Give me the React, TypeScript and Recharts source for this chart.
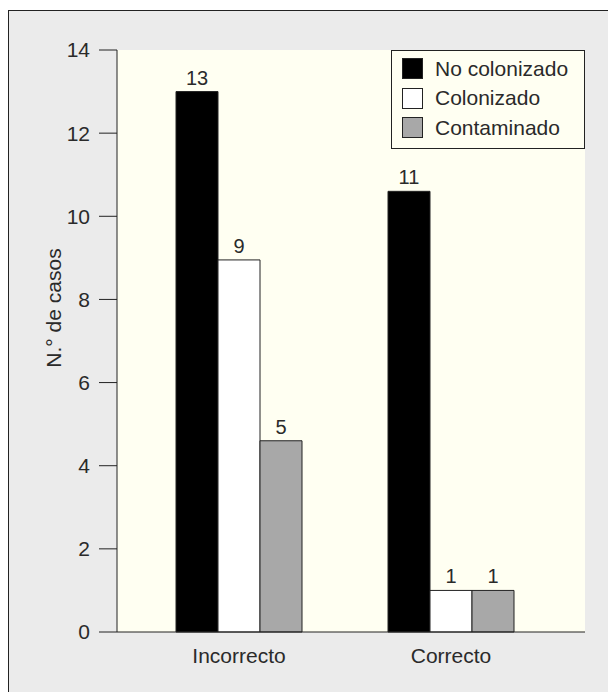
import {
  BarChart,
  Bar,
  XAxis,
  YAxis,
  CartesianGrid,
  Legend,
  LabelList,
} from 'recharts';

const categories = ['Incorrecto', 'Correcto'];
// bar heights as drawn, labels as printed
const noColonizado = [13, 10.6];
const colonizado = [8.95, 1];
const contaminado = [4.6, 1];
const noColonizadoLbl = [13, 11];
const colonizadoLbl = [9, 1];
const contaminadoLbl = [5, 1];
const yTicks = [0, 2, 4, 6, 8, 10, 12, 14];

const series = [
  {key: 'noCol', name: 'No colonizado', fill: '#000000'},
  {key: 'col', name: 'Colonizado', fill: '#ffffff'},
  {key: 'cont', name: 'Contaminado', fill: '#a8a8a8'},
];

const data = categories.map((name, i) => ({
  name,
  noCol: noColonizado[i],
  col: colonizado[i],
  cont: contaminado[i],
  noColLbl: noColonizadoLbl[i],
  colLbl: colonizadoLbl[i],
  contLbl: contaminadoLbl[i],
}));

const FONT = '"Liberation Sans", Arial, Helvetica, sans-serif';
const INK = '#222';
const TXT = '#2a2a2a';

const LegendBox = () => (
  <div
    style={{
      width: 194,
      height: 99,
      boxSizing: 'border-box',
      border: `1px solid ${INK}`,
      background: '#fffff2',
      paddingTop: 3,
      paddingLeft: 10,
      fontFamily: FONT,
      fontSize: 21,
      color: TXT,
    }}
  >
    {series.map((s) => (
      <div key={s.key} style={{display: 'flex', alignItems: 'center', height: 29.5}}>
        <span
          style={{
            width: 21,
            height: 21,
            boxSizing: 'border-box',
            background: s.fill,
            border: `1px solid ${INK}`,
            marginRight: 12,
          }}
        />
        <span>{s.name}</span>
      </div>
    ))}
  </div>
);

const YLabel = () => (
  <text
    x={44}
    y={297}
    transform="rotate(-90 44 297)"
    textAnchor="middle"
    dominantBaseline="central"
    fontFamily={FONT}
    fontSize={21}
    fill={TXT}
  >
    N.° de casos
  </text>
);

export default function App() {
  return (
    <div
      style={{
        position: 'fixed',
        left: 8,
        top: 10,
        width: 610,
        height: 690,
        borderLeft: `1px solid ${INK}`,
        borderTop: `1px solid ${INK}`,
        background: '#ebebeb',
      }}
    >
      <BarChart
        width={600}
        height={681}
        data={data}
        margin={{top: 39, right: 24, bottom: 30, left: 48}}
        barSize={42}
        barGap={0}
        style={{fontFamily: FONT}}
      >
        <CartesianGrid fill="#fffff2" horizontal={false} vertical={false} />
        <XAxis
          dataKey="name"
          height={30}
          padding={{left: 16, right: 28}}
          axisLine={{stroke: INK}}
          tickLine={false}
          tickMargin={10}
          tick={{fill: TXT, fontSize: 21}}
        />
        <XAxis
          xAxisId="top"
          dataKey="name"
          orientation="top"
          height={0}
          tick={false}
          tickLine={false}
          axisLine={{stroke: INK}}
        />
        <YAxis
          width={60}
          domain={[0, 14]}
          ticks={yTicks}
          interval={0}
          tickSize={18}
          tickMargin={9}
          axisLine={{stroke: INK}}
          tickLine={{stroke: INK}}
          tick={{fill: TXT, fontSize: 21}}
          label={{content: () => <YLabel />}}
        />
        <YAxis
          yAxisId="right"
          orientation="right"
          width={0}
          domain={[0, 14]}
          tick={false}
          tickLine={false}
          axisLine={{stroke: INK}}
        />
        <Legend
          layout="vertical"
          align="center"
          verticalAlign="middle"
          wrapperStyle={{top: 39, left: 382, width: 194, height: 99}}
          content={() => <LegendBox />}
        />
        {series.map((s) => (
          <Bar
            key={s.key}
            dataKey={s.key}
            name={s.name}
            fill={s.fill}
            stroke={INK}
            strokeWidth={1}
            isAnimationActive={false}
          >
            <LabelList
              dataKey={`${s.key}Lbl`}
              position="top"
              offset={7}
              fill={TXT}
              fontSize={20}
              fontFamily={FONT}
            />
          </Bar>
        ))}
      </BarChart>
    </div>
  );
}
